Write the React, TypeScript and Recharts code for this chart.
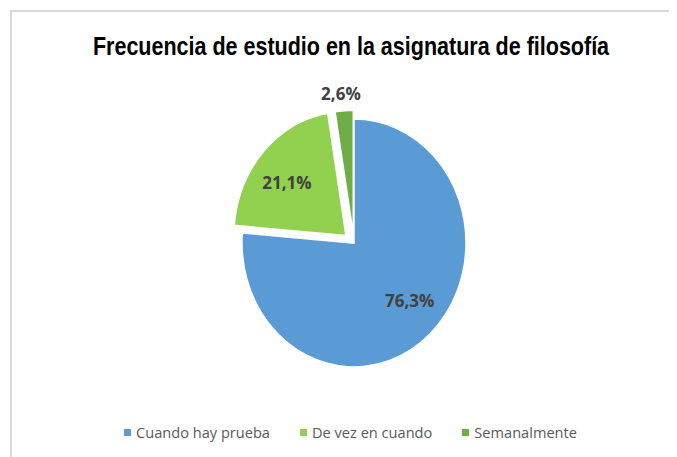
import React from "react";
import { PieChart, Pie, Cell, Sector, Legend } from "recharts";

// values (percent)
const categories = ["Cuando hay prueba", "De vez en cuando", "Semanalmente"];
const shares = [76.3, 21.1, 2.6];
const labels = ["76,3%", "21,1%", "2,6%"];

const COLORS = ["#5B9BD5", "#92D050", "#70AD47"];
const EXPLODE = [0, 11, 9];
const Y_STRETCH = 1.107;
const RADIUS = 112;
const RAD = Math.PI / 180;

const data = categories.map((name, i) => ({ name, value: shares[i], label: labels[i] }));

const offsetFor = (i: number, midAngle: number) => {
  const e = EXPLODE[i] || 0;
  return { dx: e * Math.cos(-midAngle * RAD), dy: e * Math.sin(-midAngle * RAD) };
};

const ExplodedSector = (props: any) => {
  const { cy, midAngle, index } = props;
  const { dx, dy } = offsetFor(index, midAngle);
  return (
    <g transform={`translate(${dx} ${dy}) translate(0 ${cy}) scale(1 ${Y_STRETCH}) translate(0 ${-cy})`}>
      <Sector {...props} />
    </g>
  );
};

// small nudges so the labels sit where Excel put them
const LABEL_NUDGE = [
  [4, -4],
  [-3, 4],
  [-2, 0],
];

const renderLabel = (props: any) => {
  const { cx, cy, midAngle, outerRadius, index } = props;
  const { dx, dy } = offsetFor(index, midAngle);
  const r = index === 2 ? outerRadius + 15 : outerRadius * 0.68;
  const x = cx + dx + r * Math.cos(-midAngle * RAD) + LABEL_NUDGE[index][0];
  const y = cy + dy + r * Math.sin(-midAngle * RAD) * Y_STRETCH + LABEL_NUDGE[index][1];
  return (
    <text
      x={x}
      y={y}
      textAnchor="middle"
      dominantBaseline="central"
      fill="#404040"
      fontFamily="'Open Sans', Calibri, sans-serif"
      fontWeight={700}
      fontSize={17}
    >
      {data[index].label}
    </text>
  );
};

const LegendContent = () => (
  <div
    style={{
      display: "flex",
      justifyContent: "center",
      gap: 30,
      fontFamily: "'Open Sans', Calibri, sans-serif",
      fontSize: 14.6,
      color: "#595959",
      paddingLeft: 16,
    }}
  >
    {data.map((d, i) => (
      <div key={d.name} style={{ display: "flex", alignItems: "center" }}>
        <span style={{ width: 7, height: 7, background: COLORS[i], marginRight: 5, display: "inline-block" }} />
        <span>{d.name}</span>
      </div>
    ))}
  </div>
);

export default function App() {
  return (
    <div style={{ position: "relative", width: 669, height: 449, background: "#fff" }}>
      <div
        style={{
          position: "absolute",
          left: 2,
          top: 2,
          width: 700,
          height: 500,
          borderTop: "2px solid #D9D9D9",
          borderLeft: "2px solid #D9D9D9",
          boxSizing: "border-box",
        }}
      />
      <div
        style={{
          position: "absolute",
          left: 0,
          width: 686,
          top: 23,
          textAlign: "center",
          fontFamily: "'Liberation Sans', Arial, sans-serif",
          fontWeight: 700,
          fontSize: 25,
          color: "#000",
          lineHeight: "30px",
          transform: "scaleX(0.86)",
          transformOrigin: "343px 0",
          whiteSpace: "nowrap",
        }}
      >
        Frecuencia de estudio en la asignatura de filosofía
      </div>
      <div style={{ position: "absolute", left: 0, top: 0 }}>
        <PieChart width={669} height={449} margin={{ top: 0, right: 0, bottom: 0, left: 0 }}>
          <Pie
            data={data}
            dataKey="value"
            nameKey="name"
            cx={346}
            cy={235}
            outerRadius={RADIUS}
            startAngle={90}
            endAngle={-270}
            stroke="#fff"
            strokeWidth={1.5}
            shape={ExplodedSector}
            label={renderLabel}
            labelLine={false}
            isAnimationActive={false}
          >
            {data.map((d, i) => (
              <Cell key={d.name} fill={COLORS[i]} />
            ))}
          </Pie>
          <Legend
            content={<LegendContent />}
            wrapperStyle={{ position: "absolute", left: 0, width: 669, top: 414 }}
          />
        </PieChart>
      </div>
    </div>
  );
}
